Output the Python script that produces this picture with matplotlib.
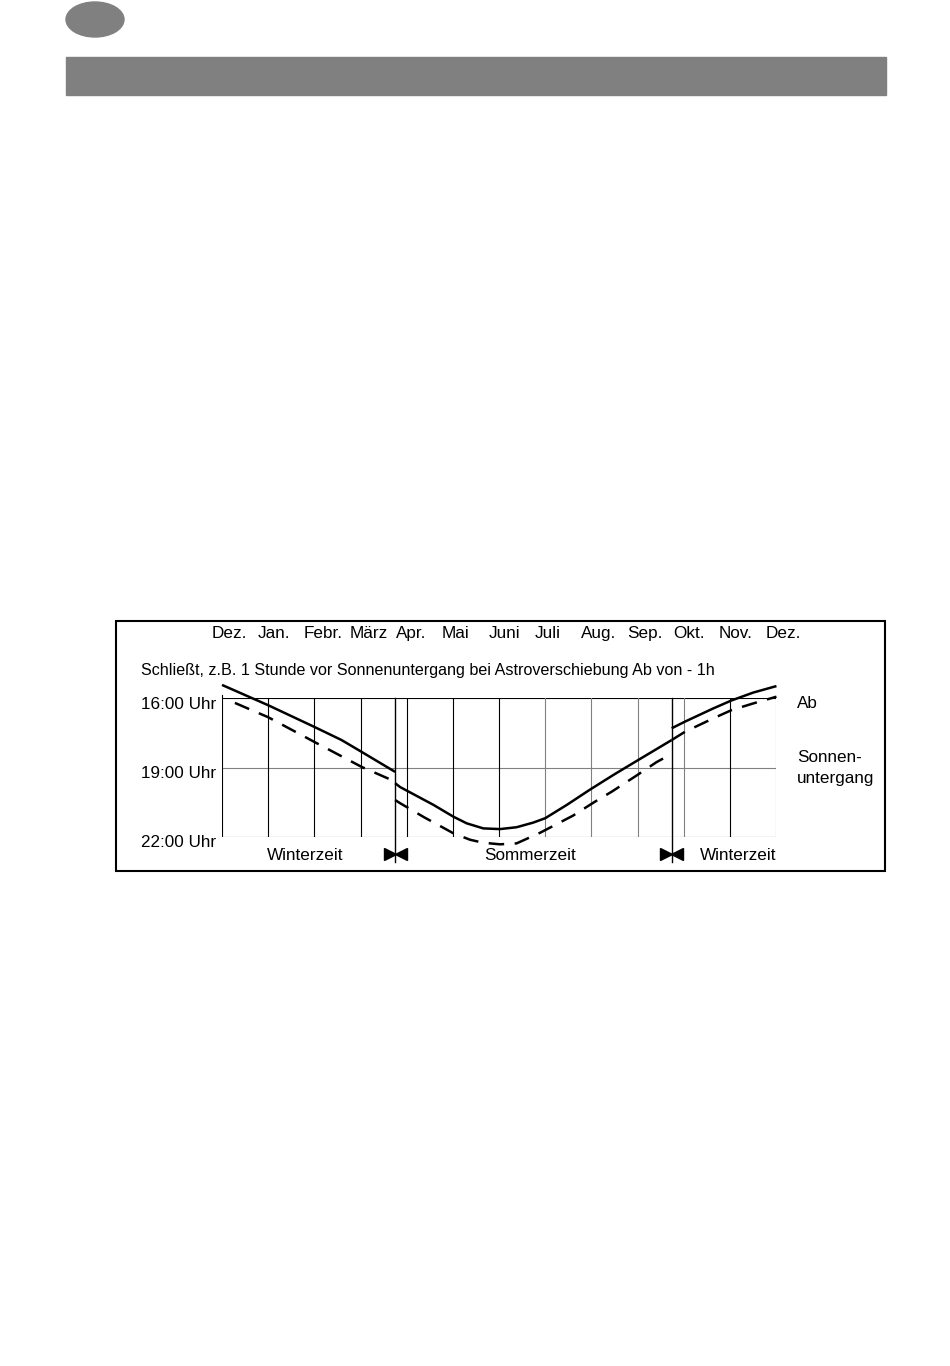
import matplotlib
matplotlib.use("Agg")
import matplotlib.pyplot as plt
import matplotlib.patches as mpatches
import matplotlib.transforms as mtransforms

plt.rcParams['font.family'] = ['Liberation Sans', 'DejaVu Sans']

# ---------------- data ----------------
month_labels = ["Dez.", "Jan.", "Febr.", "März", "Apr.", "Mai", "Juni",
                "Juli", "Aug.", "Sep.", "Okt.", "Nov.", "Dez."]
time_ticks = [16, 19, 22]
time_labels = ["16:00 Uhr", "19:00 Uhr", "22:00 Uhr"]
subtitle = "Schließt, z.B. 1 Stunde vor Sonnenuntergang bei Astroverschiebung Ab von - 1h"
dst_start = 3.75   # month index of switch to summer time
dst_end = 9.74     # month index of switch back to winter time

# "Ab" curve (solid), three segments (months since Dec, clock hours)
ab_w1_x = [0.00, 1.00, 2.00, 2.59, 3.03, 3.75]
ab_w1_y = [15.42, 16.30, 17.24, 17.81, 18.33, 19.19]
ab_s_x = [3.75, 3.86, 4.58, 5.01, 5.30, 5.66, 6.02, 6.38, 6.74, 7.00, 7.47, 7.97, 8.48, 9.02, 9.74]
ab_s_y = [19.68, 19.85, 20.62, 21.13, 21.42, 21.64, 21.67, 21.59, 21.39, 21.20, 20.62, 19.96, 19.32, 18.67, 17.81]
ab_w2_x = [9.74, 10.03, 10.64, 11.04, 11.51, 12.01]
ab_w2_y = [17.30, 17.01, 16.44, 16.09, 15.75, 15.47]

# Sunset curve (dashed)
ss_w1_x = [0.28, 1.00, 1.99, 3.03, 3.75]
ss_w1_y = [16.20, 16.82, 17.88, 18.98, 19.61]
ss_s_x = [3.75, 3.86, 4.38, 5.01, 5.37, 5.65, 6.02, 6.38, 6.89, 7.60, 8.08, 8.44, 8.94, 9.41, 9.74]
ss_s_y = [20.41, 20.55, 21.16, 21.85, 22.13, 22.26, 22.33, 22.29, 21.83, 21.09, 20.48, 20.05, 19.40, 18.77, 18.41]
ss_w2_x = [9.74, 10.03, 10.64, 11.04, 11.51, 12.01]
ss_w2_y = [17.81, 17.45, 16.87, 16.51, 16.22, 15.93]

# ---------------- figure ----------------
W, H = 950, 1366
fig = plt.figure(figsize=(W / 100, H / 100), dpi=100)


def fx(x):
    return x / W


def fy(y):
    return 1 - y / H


GRAY = '#808080'
FS = 12.3

# header decorations
fig.patches.append(mpatches.Ellipse((fx(95), fy(19.5)), 58 / W, 35 / H,
                                    transform=fig.transFigure, color=GRAY))
fig.patches.append(mpatches.Rectangle((fx(66), fy(95)), 820 / W, 38 / H,
                                      transform=fig.transFigure, color=GRAY))
# outer frame of the chart
fig.patches.append(mpatches.Rectangle((fx(116), fy(871)), (885 - 116) / W, (871 - 621) / H,
                                      transform=fig.transFigure, fill=False,
                                      edgecolor='black', lw=1.5))

# plotting area
ax = fig.add_axes([fx(222), fy(836.7), 554 / W, (836.7 - 698.3) / H])
ax.set_xlim(0, 12)
ax.set_ylim(22, 16)
ax.axis('off')

# horizontal grid
hcolors = {16: 'black', 19: GRAY, 22: '#444444'}
for t in time_ticks:
    ax.axhline(t, color=hcolors[t], lw=0.8, zorder=1)

# vertical grid (month boundaries)
black_months = {0, 1, 2, 3, 4, 5, 6, 11}
for m in range(len(month_labels)):
    ax.axvline(m, color='black' if m in black_months else GRAY, lw=0.8, zorder=1)
# small tick above the left edge at 16:00
ax.plot([0, 0], [16, 15.85], color='black', lw=0.8, clip_on=False)

# DST switch lines with bow-tie markers
for d in (dst_start, dst_end):
    ax.plot([d, d], [16, 23.09], color='black', lw=1.0, clip_on=False, zorder=2)
    tl = mtransforms.offset_copy(ax.transData, fig=fig, x=-5.5, y=0, units='dots')
    tr = mtransforms.offset_copy(ax.transData, fig=fig, x=5.5, y=0, units='dots')
    ax.plot([d], [22.75], marker='>', ms=8, color='black', mec='black',
            transform=tl, clip_on=False)
    ax.plot([d], [22.75], marker='<', ms=8, color='black', mec='black',
            transform=tr, clip_on=False)

# curves
LW = 1.8
for xs, ys in ((ab_w1_x, ab_w1_y), (ab_s_x, ab_s_y), (ab_w2_x, ab_w2_y)):
    ax.plot(xs, ys, color='black', lw=LW, clip_on=False, zorder=3,
            solid_capstyle='butt', solid_joinstyle='round')
for xs, ys in ((ss_w1_x, ss_w1_y), (ss_s_x, ss_s_y), (ss_w2_x, ss_w2_y)):
    ax.plot(xs, ys, color='black', lw=LW, clip_on=False, zorder=3,
            linestyle=(0, (6.2, 4.2)), dash_capstyle='butt')

# month labels (above the plot)
for i, lab in enumerate(month_labels):
    fig.text(fx(222 + i * 554 / 12 - 10.8), fy(633.5), lab, ha='left', va='center',
             fontsize=FS)

# subtitle
fig.text(fx(141), fy(670), subtitle, ha='left', va='center', fontsize=11.6)

# time labels
ylab_tr = mtransforms.offset_copy(ax.get_yaxis_transform(), fig=fig, x=-6, y=-6, units='dots')
for t, lab in zip(time_ticks, time_labels):
    ax.text(0, t, lab, transform=ylab_tr, ha='right', va='center', fontsize=FS)

# season labels
fig.text(fx(305.5), fy(856), "Winterzeit", ha='center', va='center', fontsize=FS)
fig.text(fx(530.5), fy(856), "Sommerzeit", ha='center', va='center', fontsize=FS)
fig.text(fx(738.5), fy(856), "Winterzeit", ha='center', va='center', fontsize=FS)

# right-hand curve labels
fig.text(fx(797), fy(704), "Ab", ha='left', va='center', fontsize=FS)
fig.text(fx(797), fy(758), "Sonnen-", ha='left', va='center', fontsize=FS)
fig.text(fx(797), fy(779), "untergang", ha='left', va='center', fontsize=FS)

fig.savefig("out.png", dpi=100)
